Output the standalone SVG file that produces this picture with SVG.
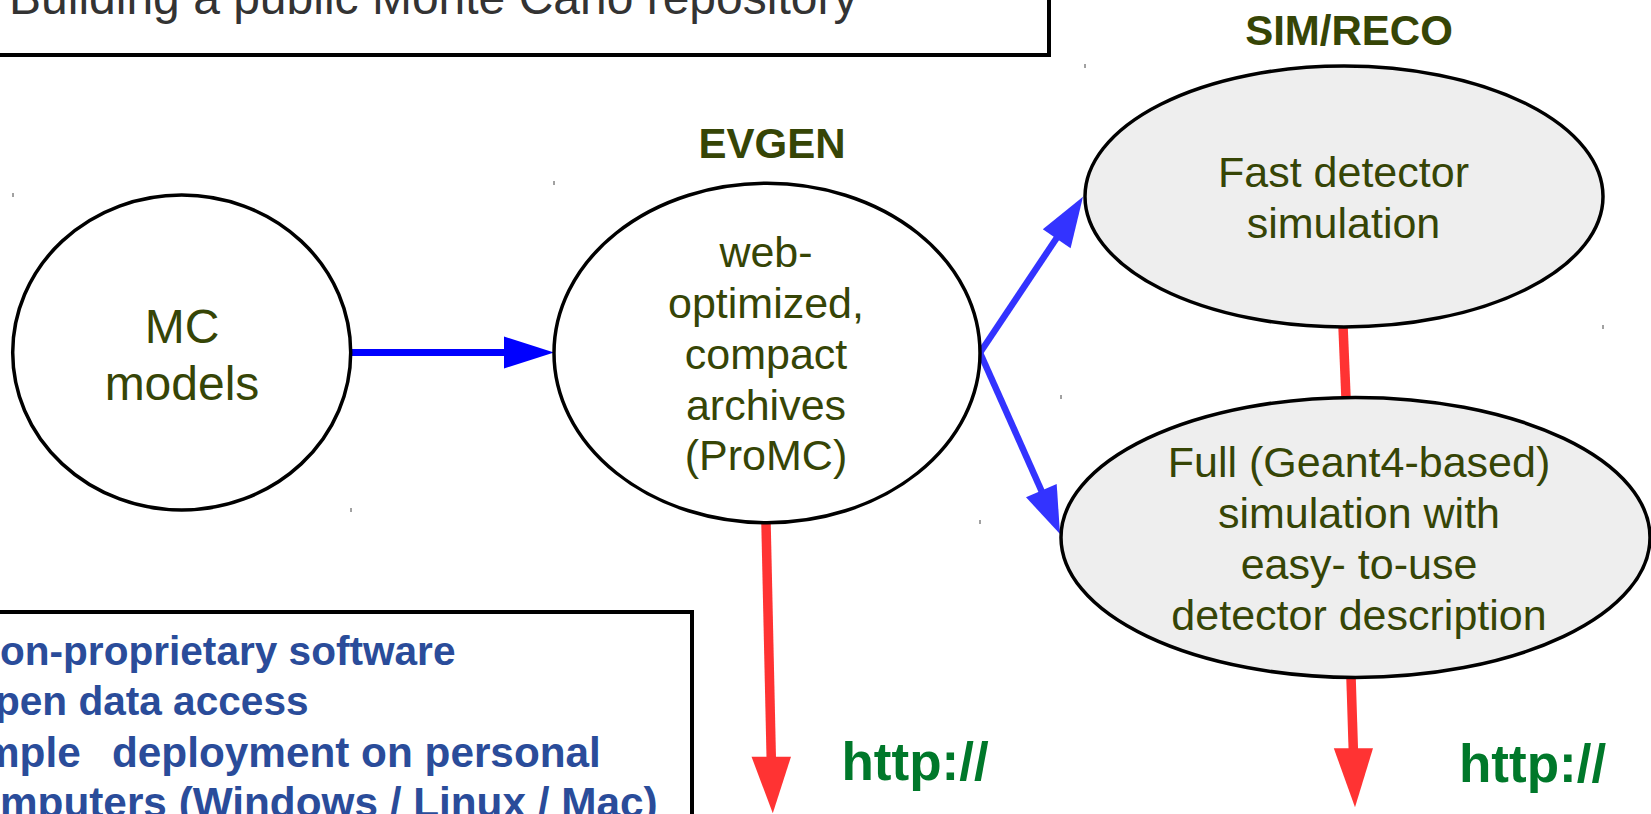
<svg xmlns="http://www.w3.org/2000/svg" width="1651" height="814" viewBox="0 0 1651 814">
<style>
.node{stroke:#000;stroke-width:3.5}
.white{fill:#fff}
.gray{fill:#eeeeee}
.nt{font-family:"Liberation Sans",Arial,sans-serif;fill:#364506;text-anchor:middle}
.lbl{font-family:"Liberation Sans",Arial,sans-serif;font-weight:bold;fill:#364506;text-anchor:middle;font-size:42px}
.bl{fill:#0000ff}
.bl2{fill:#3333ff}
.rd{fill:#ff3333}
.bls{stroke:#0000ff;stroke-width:7;fill:none}
.bl2s{stroke:#3333ff;stroke-width:6.5;fill:none}
.rds{stroke:#ff3333;stroke-width:9.5;fill:none}
.box{fill:none;stroke:#000;stroke-width:4}
.bt{font-family:"Liberation Sans",Arial,sans-serif;font-weight:bold;fill:#2a4c9a}
.http{font-family:"Liberation Sans",Arial,sans-serif;font-weight:bold;fill:#00782a;font-size:53px}
.tick{stroke:#444;stroke-width:1}
</style>
<rect width="1651" height="814" fill="#fff"/>
<g id="title">
<rect class="box" x="-10" y="-10" width="1059" height="65"/>
<text x="9" y="13.5" font-family="'Liberation Sans',Arial,sans-serif" font-size="48" fill="#333333">Building a public Monte Carlo repository</text>
</g>
<g id="ticks">
<line class="tick" x1="13" y1="193" x2="13" y2="197"/>
<line class="tick" x1="554" y1="181" x2="554" y2="185"/>
<line class="tick" x1="351" y1="508" x2="351" y2="512"/>
<line class="tick" x1="980" y1="520" x2="980" y2="524"/>
<line class="tick" x1="1061" y1="395" x2="1061" y2="399"/>
<line class="tick" x1="1085" y1="64" x2="1085" y2="68"/>
<line class="tick" x1="1603" y1="325" x2="1603" y2="329"/>
</g>
<g id="connectors">
<line class="bls" x1="351" y1="352.5" x2="506" y2="352.5"/>
<polygon class="bl" points="504,336.5 554,352.5 504,368.5"/>
<line class="bl2s" x1="980" y1="352.7" x2="1058" y2="236"/>
<polygon class="bl2" points="1042.8,229.3 1083,196.7 1070.6,248.3"/>
<line class="bl2s" x1="980" y1="352.7" x2="1042" y2="492"/>
<polygon class="bl2" points="1026,497.3 1060,534 1056.7,484"/>
<line class="rds" x1="1343" y1="326" x2="1346" y2="398"/>
<line class="rds" x1="766" y1="523" x2="771.3" y2="760"/>
<polygon class="rd" points="751.5,756.7 791,756.7 772.8,813.3"/>
<line class="rds" x1="1351" y1="677" x2="1353.4" y2="752"/>
<polygon class="rd" points="1333.8,748.3 1373,748.3 1355,807.3"/>
</g>
<g id="mc">
<ellipse class="node white" cx="181.7" cy="352.5" rx="169" ry="157.5"/>
<text class="nt" font-size="48" x="182" y="342.7">MC</text>
<text class="nt" font-size="48" x="182" y="400">models</text>
</g>
<g id="evgen">
<text class="lbl" x="772" y="158">EVGEN</text>
<ellipse class="node white" cx="767" cy="353" rx="213" ry="169.7"/>
<text class="nt" font-size="43" x="766" y="267">web-</text>
<text class="nt" font-size="43" x="766" y="318">optimized,</text>
<text class="nt" font-size="43" x="766" y="368.5">compact</text>
<text class="nt" font-size="43" x="766" y="419.5">archives</text>
<text class="nt" font-size="43" x="766" y="470">(ProMC)</text>
</g>
<g id="fast">
<text class="lbl" x="1349" y="45">SIM/RECO</text>
<ellipse class="node gray" cx="1344" cy="196.5" rx="259" ry="130.5"/>
<text class="nt" font-size="43" x="1343.5" y="186.7">Fast detector</text>
<text class="nt" font-size="43" x="1343.5" y="238">simulation</text>
</g>
<g id="full">
<ellipse class="node gray" cx="1355.5" cy="537.4" rx="294.5" ry="140"/>
<text class="nt" font-size="43" x="1359" y="476.7">Full (Geant4-based)</text>
<text class="nt" font-size="43" x="1359" y="528.3">simulation with</text>
<text class="nt" font-size="43" x="1359" y="578.8">easy- to-use</text>
<text class="nt" font-size="43" x="1359" y="630">detector description</text>
</g>
<g id="http">
<text class="http" x="841.5" y="780">http://</text>
<text class="http" x="1459" y="781.7">http://</text>
</g>
<g id="features">
<rect class="box" x="-10" y="612" width="702" height="230"/>
<text class="bt" font-size="40.6" x="0" y="665">on-proprietary software</text>
<text class="bt" font-size="40.6" x="-5" y="715">pen data access</text>
<text class="bt" font-size="42.3" y="766.7"><tspan x="-18">mple</tspan><tspan x="112">deployment on personal</tspan></text>
<text class="bt" font-size="42.3" x="0" y="817">mputers (Windows / Linux / Mac)</text>
</g>
</svg>
